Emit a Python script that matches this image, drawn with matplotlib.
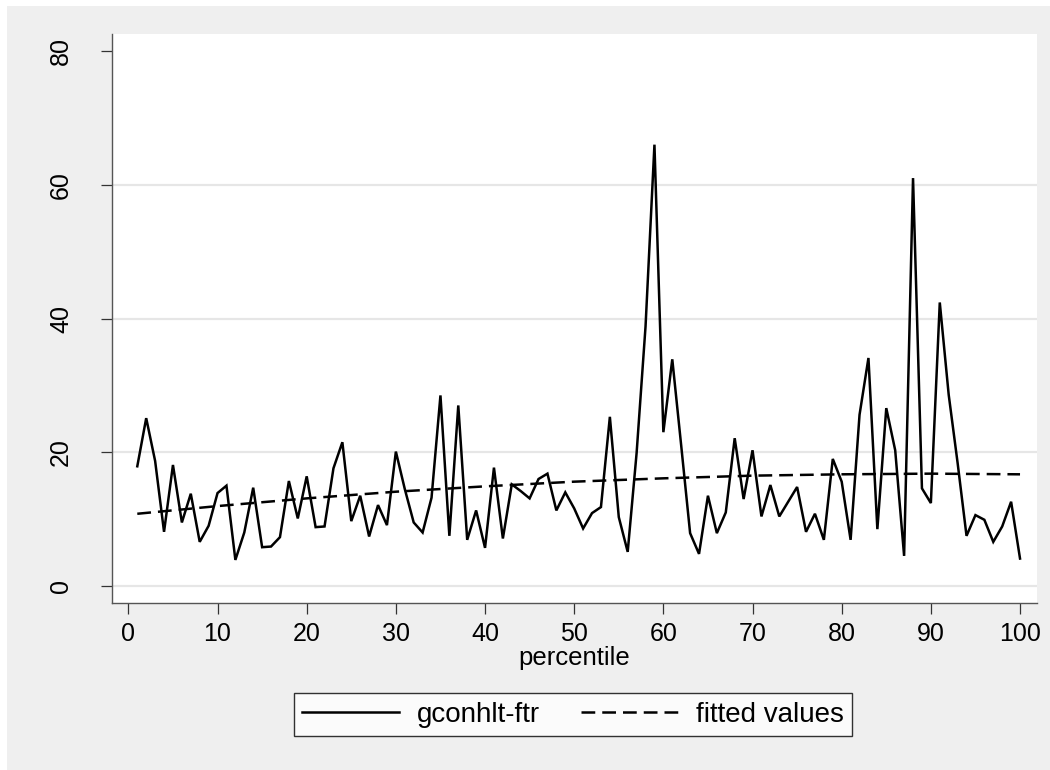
import matplotlib
matplotlib.use("Agg")
import matplotlib.pyplot as plt
from matplotlib.patches import Rectangle

plt.rcParams['font.family'] = ['Liberation Sans', 'DejaVu Sans']

# ---- data ----
percentile = list(range(1, 101))
gconhlt_ftr = [17.9, 25.1, 18.7, 8.1, 18.1, 9.5, 13.8, 6.6, 9.0, 13.9,
               15.0, 3.9, 8.0, 14.7, 5.8, 5.9, 7.3, 15.7, 10.1, 16.4,
               8.8, 8.9, 17.6, 21.5, 9.7, 13.5, 7.4, 12.1, 9.1, 20.1,
               14.5, 9.5, 8.0, 13.2, 28.5, 7.5, 27.0, 6.9, 11.3, 5.7,
               17.7, 7.1, 15.2, 14.2, 13.1, 16.0, 16.8, 11.3, 14.0, 11.6,
               8.6, 10.9, 11.8, 25.3, 10.3, 5.1, 19.9, 38.8, 66.0, 23.0,
               33.9, 21.0, 7.9, 4.8, 13.5, 7.9, 11.0, 22.1, 13.0, 20.3,
               10.4, 15.1, 10.4, 12.6, 14.8, 8.1, 10.8, 6.9, 19.0, 15.6,
               6.9, 25.6, 34.1, 8.5, 26.6, 20.3, 4.5, 61.0, 14.6, 12.4,
               42.4, 28.6, 18.4, 7.5, 10.6, 9.9, 6.6, 8.9, 12.6, 4.1]
fit_x = [1, 10, 20, 30, 40, 50, 60, 70, 80, 90, 100]
fit_y = [10.8, 11.95, 13.1, 14.1, 14.9, 15.6, 16.1, 16.5, 16.7, 16.8, 16.7]
xticks = [0, 10, 20, 30, 40, 50, 60, 70, 80, 90, 100]
yticks = [0, 20, 40, 60, 80]
labels = ["gconhlt-ftr", "fitted values"]
xlabel = "percentile"

# ---- figure ----
W, H = 1050, 770
fig = plt.figure(figsize=(W / 100, H / 100), dpi=100, facecolor='white')
fig.patches.append(Rectangle((7 / W, 0), 1 - 7 / W, 1 - 6 / H,
                             transform=fig.transFigure, facecolor='#efefef',
                             edgecolor='none', zorder=-10))

ax = fig.add_axes([111.7 / W, 1 - 602.7 / H, (1036.7 - 111.7) / W, (602.7 - 34) / H])
ax.set_facecolor('white')

l1, = ax.plot(percentile, gconhlt_ftr, color='black', lw=1.8,
              solid_joinstyle='miter', zorder=3)
l2, = ax.plot(fit_x, fit_y, color='black', lw=1.8, linestyle=(0, (5.5, 2.8)), zorder=3)

ax.set_xlim(-1.87, 101.87)
ax.set_ylim(-2.5, 82.55)
ax.set_xticks(xticks)
ax.set_yticks(yticks)

for s in ['top', 'right']:
    ax.spines[s].set_visible(False)
for s in ['left', 'bottom']:
    ax.spines[s].set_color('#555555')
    ax.spines[s].set_linewidth(1.0)

ax.tick_params(axis='both', direction='out', length=7.7, width=0.9,
               color='#333333', labelsize=18)
ax.tick_params(axis='x', pad=6.5)
ax.tick_params(axis='y', pad=20)
for lab in ax.get_yticklabels():
    lab.set_rotation(90)
    lab.set_va('center')
    lab.set_ha('right')

ax.yaxis.grid(True, color='#e6e6e6', lw=1.6, zorder=0)
ax.set_axisbelow(True)
glines = ax.get_ygridlines()
glines[-1].set_visible(False)

ax.set_xlabel(xlabel, fontsize=18.5, labelpad=0)

leg = fig.legend([l1, l2], labels, loc='center',
                 bbox_to_anchor=(573 / W, 1 - 714.5 / H), ncol=2,
                 fontsize=20, frameon=True, fancybox=False,
                 handlelength=3.5, handletextpad=0.65, columnspacing=1.45,
                 borderpad=0.3)
leg.get_frame().set_edgecolor('black')
leg.get_frame().set_linewidth(1.0)
leg.get_frame().set_facecolor('white')

fig.savefig('out.png', dpi=100, facecolor=fig.get_facecolor())
